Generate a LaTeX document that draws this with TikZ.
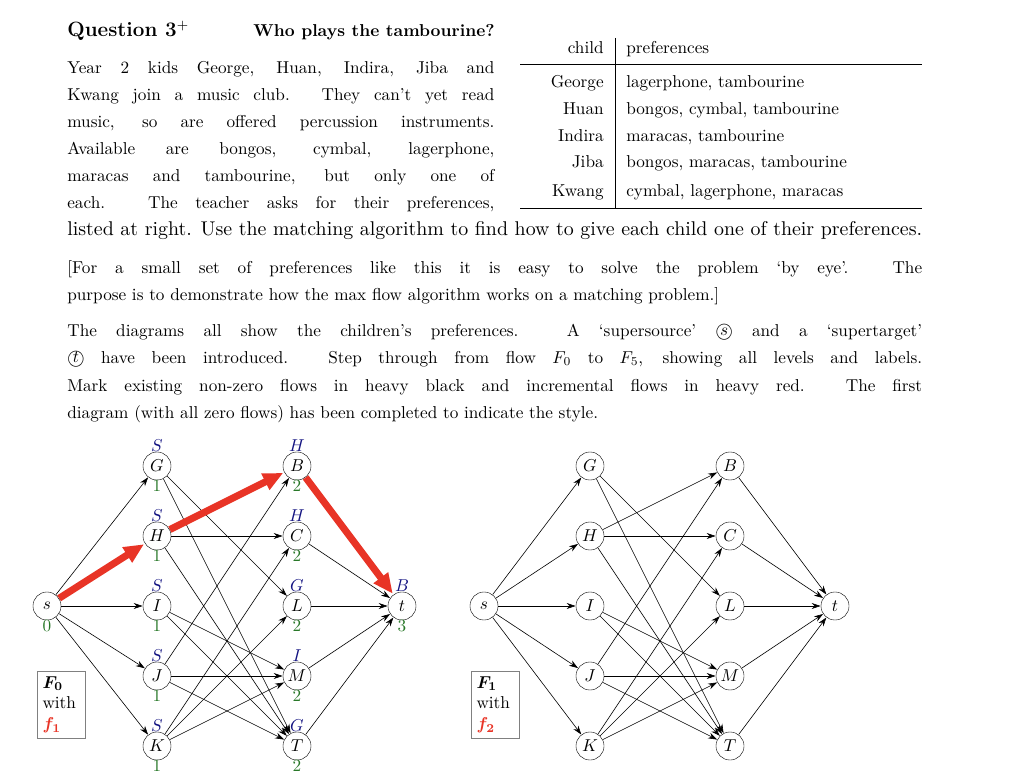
\documentclass[tikz,border=0pt]{standalone}
\usepackage{amsmath}
\usetikzlibrary{arrows.meta}
\definecolor{lblue}{RGB}{20,20,130}
\definecolor{lgreen}{RGB}{40,120,40}
\definecolor{fred}{RGB}{232,52,38}
\newcommand{\jl}[2]{\makebox[#1pt][s]{#2}}
\begin{document}
\begin{tikzpicture}[x=1pt,y=-1pt,
  every node/.style={scale=1.72,transform shape},
  txt/.style={anchor=base west,inner sep=0pt},
  v/.style={circle,draw,minimum size=16.3pt,inner sep=0pt},
  e/.style={-{Stealth[length=9pt,width=6pt]},semithick},
  fe/.style={fred,line width=7pt,-{Triangle[length=20pt,width=17pt]},shorten >=1pt},
  ab/.style={lblue,inner sep=0pt},
  be/.style={lgreen,inner sep=0pt},
  bx/.style={draw=gray,thin,inner sep=3pt,align=left,text width=22pt}]
\useasboundingbox (0,0) rectangle (1024,783);
% title
\node[txt] (q) at (67,37) {\large\bfseries Question 3$^{+}$};
\node[txt] (qt) at (253,37) {\bfseries Who plays the tambourine?};
% left paragraph
\node[txt] (l1) at (67,74) {\jl{248.3}{Year 2 kids George, Huan, Indira, Jiba and}};
\node[txt] (l2) at (67,101) {\jl{248.3}{Kwang join a music club. They can't yet read}};
\node[txt] (l3) at (67,128) {\jl{248.3}{music, so are offered percussion instruments.}};
\node[txt] (l4) at (67,155) {\jl{248.3}{Available are bongos, cymbal, lagerphone,}};
\node[txt] (l5) at (67,182) {\jl{248.3}{maracas and tambourine, but only one of}};
\node[txt] (l6) at (67,209) {\jl{248.3}{each. The teacher asks for their preferences,}};
\node[txt] (l7) at (67,236) {\resizebox{497pt}{!}{listed at right. Use the matching algorithm to find how to give each child one of their preferences.}};
% table
\draw[thin] (615,38) -- (615,208);
\draw[thin] (520,64) -- (922,64);
\draw[thin] (520,208) -- (922,208);
\node[txt,anchor=base east] (h1) at (604,54) {child};
\node[txt] (h2) at (626,54) {preferences};
\node[txt,anchor=base east] (c1) at (604,88) {George};
\node[txt] (p1) at (626,88) {lagerphone, tambourine};
\node[txt,anchor=base east] (c2) at (604,115) {Huan};
\node[txt] (p2) at (626,115) {bongos, cymbal, tambourine};
\node[txt,anchor=base east] (c3) at (604,142) {Indira};
\node[txt] (p3) at (626,142) {maracas, tambourine};
\node[txt,anchor=base east] (c4) at (604,168) {Jiba};
\node[txt] (p4) at (626,168) {bongos, maracas, tambourine};
\node[txt,anchor=base east] (c5) at (604,197) {Kwang};
\node[txt] (p5) at (626,197) {cymbal, lagerphone, maracas};
% middle paragraphs
\node[txt] (m1) at (67,273) {\jl{497}{[For a small set of preferences like this it is easy to solve the problem `by eye'. The}};
\node[txt] (m2) at (67,301) {purpose is to demonstrate how the max flow algorithm works on a matching problem.]};
\node[txt] (n1) at (67,336) {\jl{497}{The diagrams all show the children's preferences. A `supersource' \textcircled{$s$} and a `supertarget'}};
\node[txt] (n2) at (67,363) {\jl{497}{\textcircled{$t$} have been introduced. Step through from flow $F_0$ to $F_5$, showing all levels and labels.}};
\node[txt] (n3) at (67,391) {\jl{497}{Mark existing non-zero flows in heavy black and incremental flows in heavy red. The first}};
\node[txt] (n4) at (67,418) {diagram (with all zero flows) has been completed to indicate the style.};
% ---------- graph 1
\foreach \n/\x/\y/\l in {s/47/606/s,G/157/466/G,H/157/536/H,I/157/606/I,J/157/676/J,K/157/746/K,B/297/466/B,C/297/536/C,L/297/606/L,M/297/676/M,T/297/746/T,t/402/606/t}
  \node[v] (a\n) at (\x,\y) {$\l$};
\foreach \a/\b in {s/G,s/I,s/J,s/K,G/L,G/T,H/C,H/T,I/M,I/T,J/B,J/M,J/T,K/C,K/L,K/M,C/t,L/t,M/t,T/t}
  \draw[e] (a\a) -- (a\b);
\draw[fe] (as) -- (aH);
\draw[fe] (aH) -- (aB);
\draw[fe] (aB) -- (at);
\foreach \n/\l in {G/S,H/S,I/S,J/S,K/S,B/H,C/H,L/G,M/I,T/G,t/B}
  \node[ab] (u\n) at ([yshift=20pt]a\n.center) {$\l$};
\foreach \n/\l in {s/0,G/1,H/1,I/1,J/1,K/1,B/2,C/2,L/2,M/2,T/2,t/3}
  \node[be] (d\n) at ([yshift=-20pt]a\n.center) {\l};
\node[bx,anchor=north west] (box1) at (37,671) {$\boldsymbol{F_0}$\\with\\\textcolor{fred}{$\boldsymbol{f_1}$}};
% ---------- graph 2
\foreach \n/\x/\y/\l in {s/484/606/s,G/590/466/G,H/590/536/H,I/590/606/I,J/590/676/J,K/590/746/K,B/730/466/B,C/730/536/C,L/730/606/L,M/730/676/M,T/730/746/T,t/835/606/t}
  \node[v] (b\n) at (\x,\y) {$\l$};
\foreach \a/\b in {s/G,s/H,s/I,s/J,s/K,G/L,G/T,H/B,H/C,H/T,I/M,I/T,J/B,J/M,J/T,K/C,K/L,K/M,B/t,C/t,L/t,M/t,T/t}
  \draw[e] (b\a) -- (b\b);
\node[bx,anchor=north west] (box2) at (471,671) {$\boldsymbol{F_1}$\\with\\\textcolor{fred}{$\boldsymbol{f_2}$}};
\end{tikzpicture}
\end{document}
